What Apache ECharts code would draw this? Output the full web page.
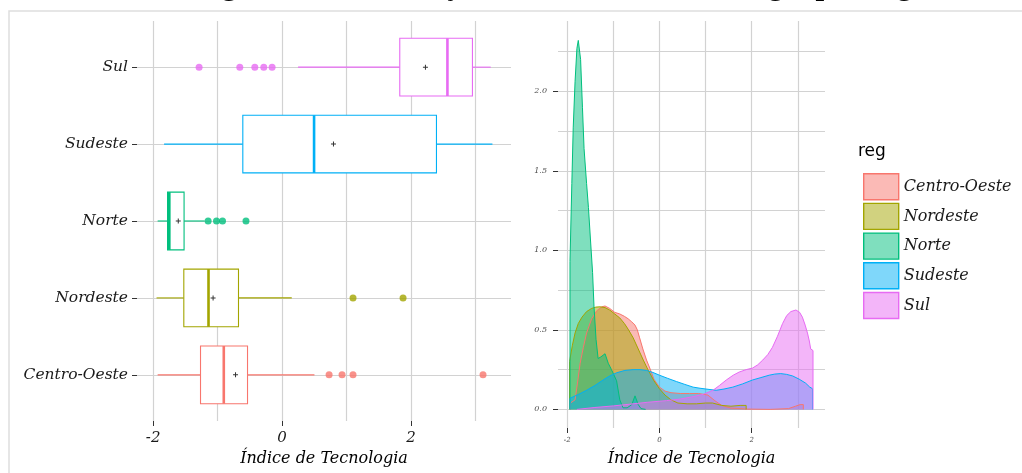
<!DOCTYPE html>
<html>
<head>
<meta charset="utf-8">
<script src="https://cdn.jsdelivr.net/npm/echarts@6/dist/echarts.min.js"></script>
<style>
  html, body { margin: 0; padding: 0; background: #ffffff; }
  #chart { width: 1022px; height: 473px; }
</style>
</head>
<body>
<div id="chart"></div>
<script>
// Regions, bottom to top on the boxplot axis
const regions = ['Centro-Oeste', 'Nordeste', 'Norte', 'Sudeste', 'Sul'];

// Box summaries: [lower whisker, Q1, median, Q3, upper whisker]
const boxCentroOeste = [-1.93, -1.265, -0.904, -0.536, 0.502];
const boxNordeste    = [-1.947, -1.524, -1.141, -0.676, 0.150];
const boxNorte       = [-1.93, -1.776, -1.749, -1.52, -1.20];
const boxSudeste     = [-1.83, -0.609, 0.496, 2.394, 3.262];
const boxSul         = [0.248, 1.825, 2.564, 2.952, 3.236];

// Mean of each region
const meanValues = [-0.722, -1.07, -1.61, 0.797, 2.223];

// Outlying observations
const outCentroOeste = [0.729, 0.930, 1.10, 3.116];
const outNordeste    = [1.10, 1.876];
const outNorte       = [-1.147, -1.017, -0.924, -0.56];
const outSudeste     = [];
const outSul         = [-1.287, -0.656, -0.423, -0.284, -0.155];

// Estimated densities: [índice, densidade]
const densCentroOeste = [[-1.93,0],[-1.93,0.04],[-1.83,0.06],[-1.78,0.16],[-1.72,0.29],[-1.65,0.39],[-1.58,0.48],[-1.47,0.57],[-1.36,0.62],[-1.25,0.645],[-1.18,0.65],[-1.08,0.635],[-0.97,0.61],[-0.86,0.60],[-0.76,0.585],[-0.68,0.57],[-0.60,0.55],[-0.53,0.53],[-0.48,0.50],[-0.43,0.45],[-0.36,0.38],[-0.28,0.31],[-0.21,0.26],[-0.12,0.19],[0.0,0.14],[0.12,0.115],[0.25,0.105],[0.45,0.10],[0.65,0.10],[0.85,0.10],[1.05,0.09],[1.20,0.055],[1.35,0.025],[1.55,0.008],[1.90,0.002],[2.40,0.0],[2.80,0.005],[2.95,0.02],[3.05,0.03],[3.12,0.03],[3.12,0]];
const densNordeste = [[-1.95,0],[-1.95,0.30],[-1.89,0.40],[-1.83,0.48],[-1.76,0.54],[-1.68,0.58],[-1.58,0.615],[-1.47,0.635],[-1.38,0.643],[-1.29,0.645],[-1.18,0.64],[-1.08,0.625],[-0.97,0.60],[-0.86,0.575],[-0.76,0.54],[-0.67,0.50],[-0.57,0.45],[-0.46,0.38],[-0.35,0.31],[-0.25,0.25],[-0.12,0.18],[0.0,0.13],[0.12,0.09],[0.25,0.06],[0.40,0.04],[0.60,0.035],[0.80,0.035],[1.0,0.04],[1.15,0.04],[1.35,0.025],[1.55,0.02],[1.75,0.025],[1.88,0.025],[1.88,0]];
const densNorte = [[-1.94,0],[-1.94,0.93],[-1.90,1.42],[-1.87,1.77],[-1.83,2.06],[-1.79,2.27],[-1.76,2.32],[-1.71,2.20],[-1.67,1.90],[-1.635,1.64],[-1.58,1.42],[-1.54,1.27],[-1.49,1.04],[-1.45,0.86],[-1.42,0.65],[-1.375,0.44],[-1.33,0.32],[-1.27,0.33],[-1.18,0.35],[-1.11,0.29],[-1.04,0.25],[-0.93,0.18],[-0.86,0.06],[-0.79,0.01],[-0.70,0.01],[-0.60,0.03],[-0.53,0.085],[-0.46,0.03],[-0.40,0.005],[-0.30,0]];
const densSudeste = [[-1.94,0],[-1.94,0.07],[-1.75,0.095],[-1.58,0.12],[-1.40,0.15],[-1.22,0.185],[-1.08,0.21],[-0.93,0.23],[-0.75,0.245],[-0.57,0.25],[-0.42,0.25],[-0.28,0.245],[-0.14,0.232],[0.0,0.215],[0.18,0.195],[0.37,0.175],[0.55,0.157],[0.73,0.14],[0.88,0.133],[1.01,0.128],[1.23,0.12],[1.40,0.128],[1.59,0.14],[1.80,0.16],[2.02,0.185],[2.20,0.20],[2.38,0.215],[2.50,0.222],[2.63,0.225],[2.76,0.22],[2.89,0.21],[3.03,0.19],[3.17,0.165],[3.26,0.14],[3.32,0.13],[3.32,0]];
const densSul = [[-1.79,0],[-1.79,0.006],[-1.40,0.012],[-1.00,0.022],[-0.64,0.033],[-0.25,0.045],[0.15,0.055],[0.45,0.065],[0.73,0.08],[0.95,0.095],[1.16,0.12],[1.30,0.15],[1.45,0.185],[1.60,0.215],[1.73,0.235],[1.88,0.25],[2.02,0.26],[2.13,0.28],[2.24,0.31],[2.35,0.345],[2.45,0.39],[2.56,0.46],[2.67,0.54],[2.76,0.59],[2.85,0.615],[2.96,0.625],[3.04,0.61],[3.10,0.58],[3.16,0.53],[3.21,0.48],[3.25,0.43],[3.28,0.38],[3.33,0.37],[3.33,0]];

// Tick labels
const xTickLabels = [-2, 0, 2];
const densityTickLabels = [0, 0.5, 1, 1.5, 2];
const categoryTicks = [1, 2, 3, 4, 5];

const boxes = [boxCentroOeste, boxNordeste, boxNorte, boxSudeste, boxSul];
const outliers = [outCentroOeste, outNordeste, outNorte, outSudeste, outSul];
const densities = [densCentroOeste, densNordeste, densNorte, densSudeste, densSul];

const palette = ['#F8766D', '#A3A500', '#00BF7D', '#00B0F6', '#E76BF3'];
const fills = ['rgba(248,118,109,0.5)', 'rgba(163,165,0,0.5)', 'rgba(0,191,125,0.5)', 'rgba(0,176,246,0.5)', 'rgba(231,107,243,0.5)'];

const serif = "'DejaVu Serif', 'Liberation Serif', serif";
const gridColor = '#D2D2D2';
const tickColor = '#333333';

// Panel ranges (with the usual padding around the data)
const boxXRange = [-2.25, 3.55];
const boxYRange = [0.4, 5.6];
const densXRange = [-2.2, 3.59];
const densYRange = [-0.117, 2.442];

const chart = echarts.init(document.getElementById('chart'), null, { renderer: 'canvas' });

function renderBox(params, api) {
  const pos = api.value(0);
  const color = palette[params.dataIndex];
  const lo = api.coord([api.value(1), pos]);
  const q1 = api.coord([api.value(2), pos]);
  const med = api.coord([api.value(3), pos]);
  const q3 = api.coord([api.value(4), pos]);
  const hi = api.coord([api.value(5), pos]);
  const half = api.size([0, 0.375])[1];
  const y = lo[1];
  const lineStyle = { stroke: color, lineWidth: 1.1, fill: null };
  return {
    type: 'group',
    children: [
      { type: 'line', shape: { x1: lo[0], y1: y, x2: q1[0], y2: y }, style: lineStyle },
      { type: 'line', shape: { x1: q3[0], y1: y, x2: hi[0], y2: y }, style: lineStyle },
      { type: 'rect', shape: { x: q1[0], y: y - half, width: q3[0] - q1[0], height: 2 * half },
        style: { stroke: color, lineWidth: 1.1, fill: '#ffffff' } },
      { type: 'line', shape: { x1: med[0], y1: y - half, x2: med[0], y2: y + half },
        style: { stroke: color, lineWidth: 2.6 } }
    ]
  };
}

const outlierData = [];
outliers.forEach((list, i) => {
  list.forEach(v => outlierData.push({ value: [v, i + 1], itemStyle: { color: palette[i] } }));
});
const meanData = meanValues.map((m, i) => [m, i + 1]);
const boxData = boxes.map((b, i) => [i + 1].concat(b));

// Axis that only draws the panel grid lines
function gridAxis(gridIndex, range, step, position) {
  return {
    gridIndex, type: 'value', position, min: range[0], max: range[1],
    minInterval: step, maxInterval: step,
    axisLine: { show: false, onZero: false },
    axisTick: { show: false }, axisLabel: { show: false },
    splitLine: { show: true, showMinLine: false, showMaxLine: false,
                 lineStyle: { color: gridColor, width: 1.2 } }
  };
}

// Axis that draws the tick marks, labels and title
function labelAxis(gridIndex, range, position, values, label, name, nameGap) {
  const axis = {
    gridIndex, type: 'value', position, min: range[0], max: range[1],
    axisLine: { show: false, onZero: false },
    axisTick: { show: true, length: 5, customValues: values, lineStyle: { color: tickColor } },
    axisLabel: Object.assign({ customValues: values }, label),
    splitLine: { show: false }
  };
  if (name) {
    Object.assign(axis, {
      name, nameLocation: 'middle', nameGap,
      nameTextStyle: { fontFamily: serif, fontStyle: 'italic', fontSize: 16, color: '#000000' }
    });
  }
  return axis;
}

const option = {
  backgroundColor: '#ffffff',
  animation: false,
  grid: [
    { left: 137, top: 21, width: 374, height: 400, containLabel: false },
    { left: 558, top: 21, width: 267, height: 407, containLabel: false }
  ],
  xAxis: [
    gridAxis(0, boxXRange, 1, 'bottom'),
    gridAxis(1, densXRange, 1, 'bottom'),
    labelAxis(0, boxXRange, 'bottom', xTickLabels,
      { margin: 10, fontFamily: serif, fontStyle: 'italic', fontSize: 15, color: '#1a1a1a' },
      'Índice de Tecnologia', 30),
    labelAxis(1, densXRange, 'bottom', xTickLabels,
      { margin: 9, fontFamily: serif, fontStyle: 'italic', fontSize: 7, color: '#4d4d4d' },
      'Índice de Tecnologia', 23)
  ],
  yAxis: [
    gridAxis(0, boxYRange, 1, 'left'),
    gridAxis(1, densYRange, 0.25, 'left'),
    labelAxis(0, boxYRange, 'left', categoryTicks,
      { margin: 9, formatter: v => regions[Math.round(v) - 1] || '',
        fontFamily: serif, fontStyle: 'italic', fontSize: 15.5, color: '#1a1a1a' }),
    labelAxis(1, densYRange, 'left', densityTickLabels,
      { margin: 11, formatter: v => v.toFixed(1),
        fontFamily: serif, fontStyle: 'italic', fontSize: 8, color: '#4d4d4d' })
  ],
  legend: {
    orient: 'vertical', left: 858, top: 168,
    itemWidth: 35, itemHeight: 26, itemGap: 2.3,
    selectedMode: false,
    textStyle: { fontFamily: serif, fontStyle: 'italic', fontSize: 16, color: '#1a1a1a' },
    data: regions.map((r, i) => ({
      name: r, icon: 'rect',
      itemStyle: { color: fills[i], borderColor: palette[i], borderWidth: 1.4 }
    }))
  },
  graphic: [
    { type: 'rect', silent: true, shape: { x: 9, y: 11, width: 1100, height: 600 },
      style: { fill: null, stroke: '#DEDEDE', lineWidth: 1.5 }, z: -10 },
    { type: 'text', silent: true, x: 194, y: -14,
      style: { text: 'Figura 1: Distribuição do Índice de Tecnologia por região',
               font: "bold 31px 'Liberation Serif', serif", lineHeight: 44,
               fill: '#000000', verticalAlign: 'middle' } },
    { type: 'text', silent: true, x: 858, y: 152,
      style: { text: 'reg', font: "17px 'DejaVu Sans', sans-serif", fill: '#000000', verticalAlign: 'middle' } }
  ],
  series: [
    {
      name: 'caixas', type: 'custom', xAxisIndex: 0, yAxisIndex: 0,
      renderItem: renderBox, data: boxData,
      encode: { x: [1, 2, 3, 4, 5], y: 0 }, z: 2
    },
    {
      name: 'atípicos', type: 'scatter', xAxisIndex: 0, yAxisIndex: 0,
      symbol: 'circle', symbolSize: 7, data: outlierData, z: 3
    },
    {
      name: 'média', type: 'scatter', xAxisIndex: 0, yAxisIndex: 0,
      symbol: 'path://M4 0H6V4H10V6H6V10H4V6H0V4H4Z', symbolSize: 5,
      itemStyle: { color: '#000000' }, data: meanData, z: 4
    }
  ].concat(densities.map((d, i) => ({
    name: regions[i], type: 'line', xAxisIndex: 1, yAxisIndex: 1,
    data: d, showSymbol: false, symbol: 'none', smooth: false,
    color: palette[i],
    lineStyle: { color: palette[i], width: 1 },
    areaStyle: { color: fills[i], opacity: 1 },
    z: 2
  })))
};

chart.setOption(option);
</script>
</body>
</html>
